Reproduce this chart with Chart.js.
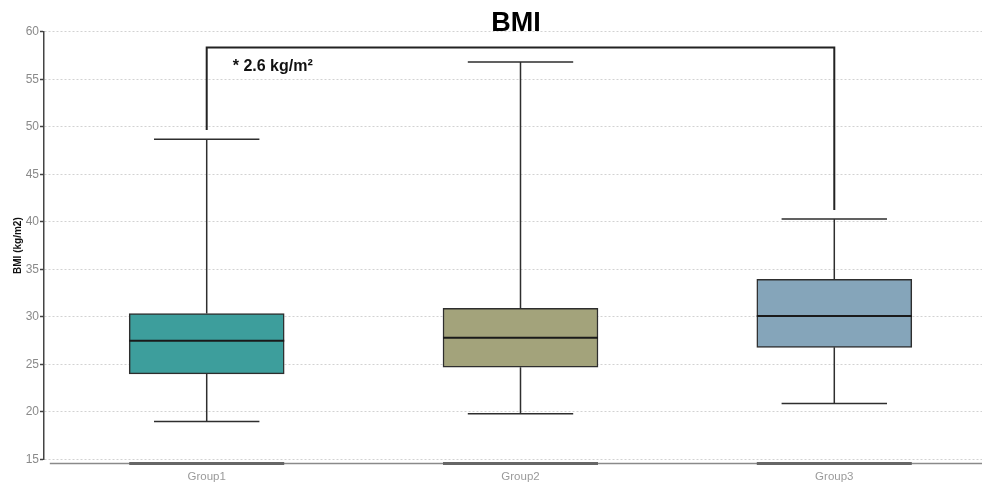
<!DOCTYPE html>
<html lang="en">
<head>
    <meta charset="UTF-8">
    <title>BMI</title>
    <script src="https://cdn.jsdelivr.net/npm/chart.js"></script>
    <style>
        html, body { margin: 0; padding: 0; background: #fff; }
        .chart-container { position: relative; width: 982px; height: 482px; }
    </style>
</head>
<body>
    <div class="chart-container">
        <canvas id="bmiChart"></canvas>
    </div>
    <script>
        // values
        const categories = ['Group1', 'Group2', 'Group3'];
        const lowerWhisker = [19.0, 19.8, 20.9];
        const q1 = [24.0, 24.7, 26.8];
        const median = [27.5, 27.8, 30.1];
        const q3 = [30.35, 30.9, 33.95];
        const upperWhisker = [48.7, 56.8, 40.3];

        // significance bracket between Group1 and Group3
        const bracketGroups = [1, 3];
        const bracketTop = 58.35;
        const bracketEnds = [49.65, 41.25];
        const bracketLabel = '* 2.6 kg/m\u00b2';

        const yTicks = { min: 15, max: 60, step: 5 };

        const boxColors = ['#3d9e9c', '#a3a37b', '#85a5ba'];
        const lineColor = '#2e2e2e';
        const baseFont = "'Liberation Sans', Arial, sans-serif";

        const boxPlotExtras = {
            id: 'boxPlotExtras',
            afterDatasetsDraw(chart) {
                const { ctx, scales: { x, y } } = chart;
                const meta = chart.getDatasetMeta(0);
                ctx.save();
                ctx.strokeStyle = lineColor;
                categories.forEach((c, i) => {
                    const bar = meta.data[i];
                    const cx = x.getPixelForValue(i + 1);
                    const capHalf = bar.width * 0.34;
                    // whiskers
                    ctx.lineWidth = 1.5;
                    ctx.beginPath();
                    ctx.moveTo(cx, y.getPixelForValue(q3[i]));
                    ctx.lineTo(cx, y.getPixelForValue(upperWhisker[i]));
                    ctx.moveTo(cx, y.getPixelForValue(q1[i]));
                    ctx.lineTo(cx, y.getPixelForValue(lowerWhisker[i]));
                    ctx.stroke();
                    // caps
                    ctx.beginPath();
                    ctx.moveTo(cx - capHalf, y.getPixelForValue(upperWhisker[i]));
                    ctx.lineTo(cx + capHalf, y.getPixelForValue(upperWhisker[i]));
                    ctx.moveTo(cx - capHalf, y.getPixelForValue(lowerWhisker[i]));
                    ctx.lineTo(cx + capHalf, y.getPixelForValue(lowerWhisker[i]));
                    ctx.stroke();
                    // median
                    ctx.lineWidth = 2;
                    ctx.strokeStyle = '#1a1a1a';
                    ctx.beginPath();
                    ctx.moveTo(cx - bar.width / 2, y.getPixelForValue(median[i]));
                    ctx.lineTo(cx + bar.width / 2, y.getPixelForValue(median[i]));
                    ctx.stroke();
                    ctx.strokeStyle = lineColor;
                });

                // bracket
                const bx1 = x.getPixelForValue(bracketGroups[0]);
                const bx2 = x.getPixelForValue(bracketGroups[1]);
                ctx.lineWidth = 2;
                ctx.strokeStyle = '#222';
                ctx.beginPath();
                ctx.moveTo(bx1, y.getPixelForValue(bracketEnds[0]));
                ctx.lineTo(bx1, y.getPixelForValue(bracketTop));
                ctx.lineTo(bx2, y.getPixelForValue(bracketTop));
                ctx.lineTo(bx2, y.getPixelForValue(bracketEnds[1]));
                ctx.stroke();

                ctx.fillStyle = '#111';
                ctx.font = 'bold 16px ' + baseFont;
                ctx.textAlign = 'left';
                ctx.textBaseline = 'middle';
                ctx.fillText(bracketLabel, bx1 + 26, y.getPixelForValue(56.3));

                // x axis line with box-width marks
                const ax = chart.chartArea.bottom + 4;
                ctx.strokeStyle = '#8a8a8a';
                ctx.lineWidth = 1.5;
                ctx.beginPath();
                ctx.moveTo(x.getPixelForValue(0.5), ax);
                ctx.lineTo(chart.chartArea.right, ax);
                ctx.stroke();
                ctx.strokeStyle = '#666';
                ctx.lineWidth = 3;
                categories.forEach((c, i) => {
                    const bar = meta.data[i];
                    const cx = x.getPixelForValue(i + 1);
                    ctx.beginPath();
                    ctx.moveTo(cx - bar.width / 2, ax);
                    ctx.lineTo(cx + bar.width / 2, ax);
                    ctx.stroke();
                });

                // title
                ctx.fillStyle = '#000';
                ctx.font = 'bold 27px ' + baseFont;
                ctx.textAlign = 'center';
                ctx.fillText('BMI', 516, 24);
                ctx.restore();
            }
        };

        new Chart(document.getElementById('bmiChart'), {
            type: 'bar',
            data: {
                datasets: [{
                    data: categories.map((c, i) => ({ x: i + 1, y: [q1[i], q3[i]] })),
                    backgroundColor: boxColors,
                    borderColor: lineColor,
                    borderWidth: 1.5,
                    borderSkipped: false,
                    barThickness: 155
                }]
            },
            options: {
                responsive: true,
                maintainAspectRatio: false,
                animation: false,
                layout: { padding: { top: 31.7, right: 0, bottom: 0, left: 0 } },
                plugins: {
                    legend: { display: false },
                    tooltip: { enabled: false }
                },
                scales: {
                    x: {
                        type: 'linear',
                        offset: false,
                        min: 0.4815,
                        max: 3.4707,
                        afterBuildTicks: (scale) => {
                            scale.ticks = categories.map((c, i) => ({ value: i + 1 }));
                        },
                        afterFit: (scale) => { scale.height = 22.5; },
                        grid: { display: false, drawTicks: false, offset: false },
                        border: { display: false },
                        ticks: {
                            padding: 10,
                            color: '#9a9a9a',
                            font: { family: baseFont, size: 11.5 },
                            callback: (v) => categories[v - 1]
                        }
                    },
                    y: {
                        min: yTicks.min,
                        max: yTicks.max,
                        afterFit: (scale) => { scale.width = 44; },
                        ticks: {
                            stepSize: yTicks.step,
                            padding: 1,
                            color: '#8a8a8a',
                            font: { family: baseFont, size: 12 }
                        },
                        grid: {
                            color: '#d2d2d2',
                            lineWidth: 1,
                            tickLength: 4,
                            tickColor: '#444',
                            tickWidth: 1.5,
                            borderDash: [2, 2]
                        },
                        border: { display: true, color: '#444', width: 1.5, dash: [2, 2] },
                        title: {
                            display: true,
                            text: 'BMI (kg/m2)',
                            color: '#111',
                            font: { family: baseFont, size: 10, weight: 'bold' },
                            padding: { top: 12, bottom: 0 }
                        }
                    }
                }
            },
            plugins: [boxPlotExtras]
        });
    </script>
</body>
</html>
